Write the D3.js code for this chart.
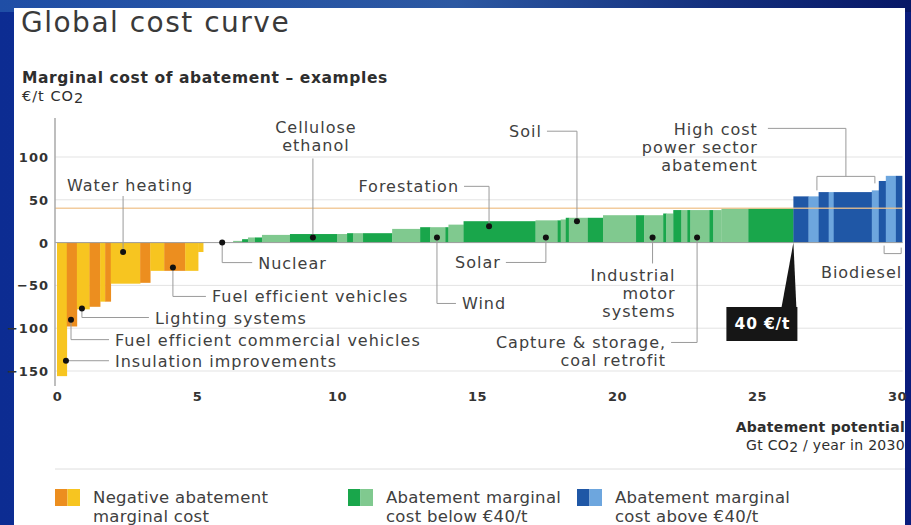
<!DOCTYPE html>
<html>
<head>
<meta charset="utf-8">
<script src="https://cdn.jsdelivr.net/npm/d3@7"></script>
<style>
  html, body { margin: 0; padding: 0; background: #0c2c92; }
  svg { display: block; }
  text { font-family: "DejaVu Sans", sans-serif; }
</style>
</head>
<body>
<svg id="chart" width="911" height="525"></svg>
<script>
// Abatement levers in merit order: potential (Gt CO2/yr) and marginal cost (€/t CO2)
const leverWidths = [
  0.35, 0.36, 0.45, 0.38, 0.18, 0.20, 1.05, 0.36, 0.50, 0.75, 0.46, 0.18,
  1.07,
  0.32, 0.21, 0.25, 0.25, 1.00, 1.68, 0.36, 0.21, 0.36, 1.04, 1.00, 0.36,
  0.54, 0.11, 0.54, 2.57, 0.79, 0.11, 0.18, 0.11, 0.68, 0.54, 1.18, 0.29,
  0.68, 0.11, 0.25, 0.29, 0.21, 0.11, 0.68, 0.14, 0.29, 0.96, 1.61,
  0.54, 0.36, 0.36, 0.18, 1.36, 0.25, 0.25, 0.36, 0.22
];
const leverCosts = [
  -156, -98, -78, -75, -69, -69, -48, -47, -33, -33, -33, -11,
  0,
  2, 4, 6, 6, 9, 10, 10, 11, 11, 11, 16, 18,
  18, 18, 21, 25, 26, 26, 27, 29, 29, 29, 32, 32,
  32, 34, 34, 38, 38, 38, 38, 38, 38, 40, 40,
  54, 54, 59, 59, 59, 61, 72, 78, 78
];
// "d" = darker tone, "l" = lighter tone within a cost band
const leverShades = [
  "l","d","l","d","l","d","l","d","l","d","l","l",
  "d",
  "l","d","l","d","l","d","l","d","l","d","l","d",
  "l","d","l","d","l","d","l","d","l","d","l","d",
  "l","d","l","d","l","d","l","d","l","l","d",
  "d","l","d","l","d","l","d","l","d"
];

const thresholdCost = 40;
const yTicks = [100, 50, 0, -50, -100, -150];
const xTicks = [0, 5, 10, 15, 20, 25, 30];

// Named levers marked with a dot on the curve
const calloutNames = [
  "Insulation improvements",
  "Fuel efficient commercial vehicles",
  "Lighting systems",
  "Water heating",
  "Fuel efficient vehicles",
  "Nuclear",
  "Cellulose\nethanol",
  "Wind",
  "Forestation",
  "Solar",
  "Soil",
  "Industrial\nmotor\nsystems",
  "Capture & storage,\ncoal retrofit"
];
const calloutGt   = [0.32, 0.50, 0.89, 2.36, 4.14, 5.90, 9.14, 13.57, 15.43, 17.46, 18.57, 21.27, 22.86];
const calloutCost = [-138, -90, -77, -11, -29, 0, 6, 6, 19, 6, 25, 6, 6];

// Lever groups marked with a bracket
const groupNames = ["High cost\npower sector\nabatement", "Biodiesel"];
const groupFrom  = [27.14, 29.54];
const groupTo    = [29.21, 30.15];

const legendNames = [
  "Negative abatement\nmarginal cost",
  "Abatement marginal\ncost below €40/t",
  "Abatement marginal\ncost above €40/t"
];

// ---------------------------------------------------------------
const svg = d3.select("#chart");
const W = 911, H = 525;
const ink = "#404040", leader = "#9a9a9a";

const palette = {
  neg:   { d: "#ec8e1f", l: "#f7c520" },
  low:   { d: "#19a64b", l: "#80c98f" },
  high:  { d: "#1f57a6", l: "#6da6de" }
};
const band = c => c < 0 ? "neg" : (c <= thresholdCost ? "low" : "high");

// backdrop: deep blue frame, lighter band across the top
const defs = svg.append("defs");
const side = defs.append("linearGradient").attr("id", "bgSide")
  .attr("x1", 0).attr("x2", 1).attr("y1", 0).attr("y2", 0);
side.append("stop").attr("offset", "0%").attr("stop-color", "#0c2c92");
side.append("stop").attr("offset", "60%").attr("stop-color", "#12369a");
side.append("stop").attr("offset", "100%").attr("stop-color", "#0a1c7c");
const topBand = defs.append("linearGradient").attr("id", "bgTop")
  .attr("x1", 0).attr("x2", 1).attr("y1", 0).attr("y2", 0);
topBand.append("stop").attr("offset", "0%").attr("stop-color", "#1f4ea6");
topBand.append("stop").attr("offset", "50%").attr("stop-color", "#2c58a2");
topBand.append("stop").attr("offset", "78%").attr("stop-color", "#14307e");
topBand.append("stop").attr("offset", "100%").attr("stop-color", "#071766");
svg.append("rect").attr("width", W).attr("height", H).attr("fill", "url(#bgSide)");
svg.append("rect").attr("width", W).attr("height", 12).attr("fill", "url(#bgTop)");
svg.append("rect").attr("x", 14).attr("y", 8).attr("width", 891).attr("height", H - 8).attr("fill", "#fff");

// titles
svg.append("text").attr("x", 21).attr("y", 32).attr("font-size", 28).attr("letter-spacing", 1.5)
  .attr("fill", "#3a3a3a").text("Global cost curve");
svg.append("text").attr("x", 22).attr("y", 83).attr("font-size", 15.5).attr("letter-spacing", 0.6)
  .attr("font-weight", "bold").attr("fill", "#2e2e2e")
  .text("Marginal cost of abatement – examples");
const unit = svg.append("text").attr("x", 22).attr("y", 101).attr("font-size", 14.5)
  .attr("letter-spacing", 1).attr("fill", "#2e2e2e");
unit.append("tspan").text("€/t CO");
unit.append("tspan").attr("dy", 2).text("2");

// scales
const x = d3.scaleLinear().domain([0, 30]).range([57, 897]);
const y = d3.scaleLinear().domain([-150, 100]).range([371, 157]);

// bar geometry from cumulative potential
const starts = [0, ...d3.cumsum(leverWidths)];
const bars = leverWidths.map((w, i) => ({
  x0: starts[i], x1: starts[i] + w, cost: leverCosts[i], shade: leverShades[i]
}));
const greenEnd = d3.max(bars.filter(b => b.cost <= thresholdCost), b => b.x1);

// gridlines
svg.append("g").selectAll("line").data(yTicks.filter(t => t !== 0)).join("line")
  .attr("x1", 55).attr("x2", x(30.2))
  .attr("y1", d => y(d)).attr("y2", d => y(d))
  .attr("stroke", "#e3e3e3").attr("stroke-width", 1);

// bars
svg.append("g").selectAll("rect").data(bars.filter(b => b.cost !== 0)).join("rect")
  .attr("x", b => x(b.x0))
  .attr("width", b => x(b.x1) - x(b.x0) + 0.3)
  .attr("y", b => y(Math.max(0, b.cost)))
  .attr("height", b => Math.abs(y(b.cost) - y(0)))
  .attr("fill", b => palette[band(b.cost)][b.shade]);

// 40 €/t threshold line
svg.append("line")
  .attr("x1", 55).attr("x2", x(30.2))
  .attr("y1", y(thresholdCost)).attr("y2", y(thresholdCost))
  .attr("stroke", "#f0c48e").attr("stroke-width", 1.5).attr("opacity", 0.85);

// axes
svg.append("line").attr("x1", 55).attr("x2", x(30.2)).attr("y1", y(0)).attr("y2", y(0))
  .attr("stroke", "#9b9b9b").attr("stroke-width", 1);
svg.append("line").attr("x1", 55).attr("x2", 55).attr("y1", 118).attr("y2", 386)
  .attr("stroke", "#a8a8a8").attr("stroke-width", 1.5);

const yAxis = d3.axisLeft(y).tickValues(yTicks).tickSize(0).tickPadding(0);
svg.append("g").attr("transform", "translate(49,0)").call(yAxis)
  .call(g => g.select(".domain").remove())
  .selectAll("text").attr("font-size", 13).attr("letter-spacing", 1).attr("font-weight", "bold")
  .attr("fill", "#333").attr("font-family", "DejaVu Sans, sans-serif").attr("dy", "0.35em");

const xAxis = d3.axisBottom(x).tickValues(xTicks).tickSize(0).tickPadding(0);
svg.append("g").attr("transform", "translate(0,392)").call(xAxis)
  .call(g => g.select(".domain").remove())
  .selectAll("text").attr("font-size", 13).attr("letter-spacing", 0.5).attr("font-weight", "bold")
  .attr("fill", "#333").attr("font-family", "DejaVu Sans, sans-serif");

svg.append("text").attr("x", 905).attr("y", 432).attr("text-anchor", "end")
  .attr("font-size", 14).attr("letter-spacing", 0.3).attr("font-weight", "bold").attr("fill", "#2e2e2e")
  .text("Abatement potential");
const xu = svg.append("text").attr("x", 905).attr("y", 450).attr("text-anchor", "end")
  .attr("font-size", 14).attr("letter-spacing", 0.3).attr("fill", "#2e2e2e");
xu.append("tspan").text("Gt CO");
xu.append("tspan").attr("dy", 2).text("2");
xu.append("tspan").attr("dy", -2).text(" / year in 2030");

// callout placement: offsets (px) of the label from its dot
const calloutLayout = [
  { kind: "elbow", dx: 49, dy: 0, anchor: "start" },
  { kind: "elbow", dx: 44, dy: 20, anchor: "start" },
  { kind: "elbow", dx: 73, dy: 9, anchor: "start" },
  { kind: "stem", dx: 7, dy: -67, stem: -56, anchor: "middle" },
  { kind: "elbow", dx: 39, dy: 29, anchor: "start" },
  { kind: "elbow", dx: 36, dy: 20, anchor: "start" },
  { kind: "stem", dx: 3, dy: -110, stem: -79, anchor: "middle" },
  { kind: "elbow", dx: 25, dy: 66, anchor: "start" },
  { kind: "elbow", dx: -30, dy: -40, anchor: "end" },
  { kind: "elbow", dx: -45, dy: 25, anchor: "end" },
  { kind: "elbow", dx: -35, dy: -90, anchor: "end" },
  { kind: "stem", dx: 23, dy: 38, stem: 26, anchor: "end" },
  { kind: "elbow", dx: -31, dy: 105, anchor: "end" }
];
const lineGap = 18;
const labelSize = 16;

function drawLabel(g, text, lx, ly, anchor) {
  const t = g.append("text").attr("x", lx).attr("y", ly)
    .attr("text-anchor", anchor).attr("font-size", labelSize).attr("letter-spacing", 1)
    .attr("fill", ink).attr("dominant-baseline", "central");
  text.split("\n").forEach((s, i) => {
    t.append("tspan").attr("x", lx).attr("y", ly + i * lineGap).text(s);
  });
}

const callG = svg.append("g");
calloutNames.forEach((name, i) => {
  const L = calloutLayout[i];
  const px = x(calloutGt[i]), py = y(calloutCost[i]);
  const lx = px + L.dx, ly = py + L.dy;
  let path;
  if (L.kind === "elbow") {
    const endX = L.anchor === "end" ? lx + 5 : lx - 6;
    path = `M${px},${py}V${ly}H${endX}`;
  } else {
    path = `M${px},${py}V${py + L.stem}`;
  }
  callG.append("path").attr("d", path).attr("fill", "none")
    .attr("stroke", leader).attr("stroke-width", 1);
  drawLabel(callG, name, lx, ly, L.anchor);
});
callG.selectAll("circle").data(calloutNames.map((n, i) => i)).join("circle")
  .attr("cx", i => x(calloutGt[i])).attr("cy", i => y(calloutCost[i]))
  .attr("r", 3).attr("fill", "#111");

// bracket for high-cost power sector levers (above the bars)
{
  const x1 = x(groupFrom[0]), x2 = x(groupTo[0]);
  const top = d3.max(bars.filter(b => b.x1 > groupFrom[0] && b.x0 < groupTo[0]), b => b.cost);
  const by = y(top) - 14;
  const mid = (x1 + x2) / 2;
  callG.append("path")
    .attr("d", `M${x1},${by + 14}V${by}H${x2}V${by + 7}M${mid},${by}V${by - 48}H${mid - 78}`)
    .attr("fill", "none").attr("stroke", leader).attr("stroke-width", 1);
  drawLabel(callG, groupNames[0], mid - 88, by - 47.5, "end");
}
// bracket for biodiesel (below the axis)
{
  const x1 = x(groupFrom[1]), x2 = x(groupTo[1]);
  const by = y(0) + 11;
  callG.append("path")
    .attr("d", `M${x1},${by - 8}V${by}H${x2}V${by - 6}`)
    .attr("fill", "none").attr("stroke", leader).attr("stroke-width", 1);
  drawLabel(callG, groupNames[1], x2 + 1, by + 18, "end");
}

// 40 €/t marker at the end of the sub-threshold levers
{
  const tipX = x(greenEnd), tipY = y(0);
  const boxTop = 307, boxH = 34;
  svg.append("path")
    .attr("d", `M${tipX},${tipY}L${tipX - 12},${boxTop + 1}L${tipX + 3},${boxTop + 1}Z`)
    .attr("fill", "#161616");
  svg.append("rect").attr("x", tipX - 67).attr("y", boxTop).attr("width", 71).attr("height", boxH)
    .attr("fill", "#161616");
  svg.append("text").attr("x", tipX - 31).attr("y", boxTop + boxH / 2)
    .attr("text-anchor", "middle").attr("dominant-baseline", "central")
    .attr("font-size", 15.5).attr("letter-spacing", 0.8).attr("font-weight", "bold").attr("fill", "#fff")
    .text(`${thresholdCost} €/t`);
}

// legend
svg.append("line").attr("x1", 55).attr("x2", 905).attr("y1", 469).attr("y2", 469)
  .attr("stroke", "#dedede").attr("stroke-width", 1);
const legendX = [55, 348, 577];
const legendKeys = ["neg", "low", "high"];
legendNames.forEach((name, i) => {
  const g = svg.append("g").attr("transform", `translate(${legendX[i]},489)`);
  g.append("rect").attr("x", 0).attr("y", 0).attr("width", 12.5).attr("height", 17)
    .attr("fill", palette[legendKeys[i]].d);
  g.append("rect").attr("x", 12.5).attr("y", 0).attr("width", 12.5).attr("height", 17)
    .attr("fill", palette[legendKeys[i]].l);
  const t = g.append("text").attr("x", 38).attr("y", 8).attr("font-size", 16.5)
    .attr("letter-spacing", 0.3).attr("fill", ink).attr("dominant-baseline", "central");
  name.split("\n").forEach((s, j) => {
    t.append("tspan").attr("x", 38).attr("y", 8 + j * 19).text(s);
  });
});
</script>
</body>
</html>
